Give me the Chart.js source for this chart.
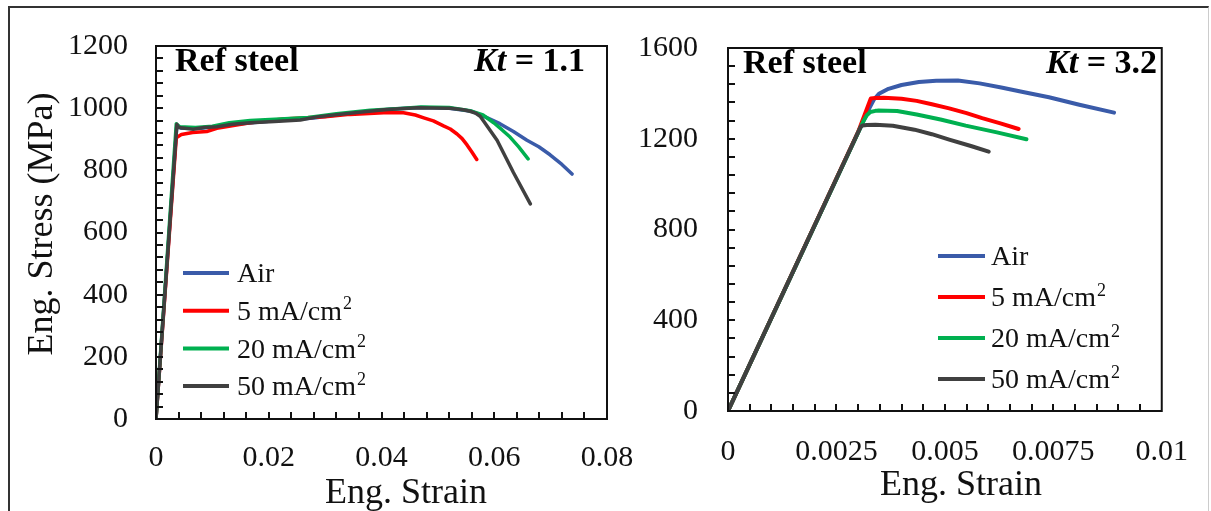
<!DOCTYPE html>
<html>
<head>
<meta charset="utf-8">
<script src="https://cdn.jsdelivr.net/npm/chart.js@4.4.1/dist/chart.umd.min.js"></script>
<style>
  html, body { margin: 0; padding: 0; background: #fff; }
  body { width: 1211px; height: 511px; position: relative; overflow: hidden; }
  #frame { position: absolute; left: 8px; top: 6px; width: 1198px; height: 540px;
           border-top: 2px solid #333; border-left: 2px solid #333; border-right: 1px solid #ccc; }
  canvas { position: absolute; top: 0; }
  #left { left: 0; }
  #right { left: 620px; }
</style>
</head>
<body>
<div id="frame"></div>
<canvas id="left" width="660" height="511"></canvas>
<canvas id="right" width="591" height="511"></canvas>
<script>
/* Stress-strain curves of the reference steel, Kt = 1.1 (left) and Kt = 3.2 (right). */
const SERIES = ["Air", "5 mA/cm²", "20 mA/cm²", "50 mA/cm²"];
const COLORS = ["#3a5ba9", "#ff0000", "#00b050", "#404040"];

// Kt = 1.1 (strain, stress in MPa)
const airStrain11 = [0, 0.0037, 0.0045, 0.008, 0.012, 0.02, 0.028, 0.035, 0.042, 0.047, 0.052, 0.056, 0.058, 0.061, 0.0634, 0.0658, 0.0679, 0.0699, 0.072, 0.0738];
const airStress11 = [0, 945, 935, 935, 945, 958, 968, 985, 997, 1002, 1000, 990, 975, 950, 925, 897, 876, 850, 819, 788];
const ma5Strain11 = [0, 0.0036, 0.0045, 0.0065, 0.009, 0.0108, 0.014, 0.0167, 0.0226, 0.03, 0.0344, 0.0404, 0.0439, 0.046, 0.0475, 0.0492, 0.051, 0.0522, 0.0534, 0.0543, 0.0552, 0.056, 0.0569];
const ma5Stress11 = [0, 905, 915, 922, 925, 935, 945, 953, 965, 972, 980, 985, 985, 978, 969, 959, 943, 933, 917, 902, 881, 860, 835];
const ma20Strain11 = [0, 0.0036, 0.0042, 0.007, 0.01, 0.013, 0.0167, 0.022, 0.027, 0.032, 0.038, 0.044, 0.047, 0.052, 0.0557, 0.058, 0.0599, 0.0614, 0.0628, 0.0643, 0.066];
const ma20Stress11 = [0, 950, 940, 938, 942, 953, 960, 965, 970, 982, 993, 1000, 1004, 1002, 992, 978, 953, 930, 907, 876, 837];
const ma50Strain11 = [0, 0.0037, 0.004, 0.0066, 0.0085, 0.0108, 0.0135, 0.0167, 0.021, 0.0256, 0.0285, 0.0344, 0.0404, 0.0463, 0.0522, 0.0545, 0.0557, 0.0568, 0.0575, 0.0581, 0.0605, 0.0634, 0.0664];
const ma50Stress11 = [0, 948, 938, 932, 938, 940, 948, 953, 957, 962, 972, 984, 995, 1001, 1000, 995, 990, 983, 974, 959, 897, 793, 692];

// Kt = 3.2
const airStrain32 = [0, 0.00326, 0.00336, 0.00348, 0.0037, 0.004, 0.0044, 0.0048, 0.0053, 0.0058, 0.0063, 0.0068, 0.0074, 0.0081, 0.0089];
const airStress32 = [0, 1335, 1372, 1398, 1420, 1437, 1450, 1456, 1457, 1444, 1426, 1406, 1383, 1350, 1315];
const ma5Strain32 = [0, 0.003, 0.00329, 0.0034, 0.00359, 0.004, 0.00435, 0.0047, 0.0051, 0.0055, 0.00586, 0.0063, 0.0067];
const ma5Stress32 = [0, 1230, 1377, 1380, 1381, 1376, 1367, 1352, 1334, 1313, 1291, 1267, 1243];
const ma20Strain32 = [0, 0.00314, 0.0032, 0.00328, 0.0034, 0.00345, 0.0039, 0.00435, 0.0049, 0.00548, 0.0062, 0.00688];
const ma20Stress32 = [0, 1284, 1304, 1318, 1323, 1324, 1322, 1307, 1285, 1258, 1228, 1198];
const ma50Strain32 = [0, 0.00306, 0.0031, 0.0032, 0.0034, 0.0038, 0.0043, 0.0047, 0.0051, 0.0056, 0.00601];
const ma50Stress32 = [0, 1253, 1258, 1261, 1262, 1257, 1240, 1220, 1196, 1168, 1143];

const FONT = "'Liberation Serif', 'Times New Roman', serif";

function pts(xs, ys) { return xs.map((x, i) => ({ x: x, y: ys[i] })); }

function datasets(list, width) {
  return list.map(function (d, i) {
    return {
      label: SERIES[i],
      data: pts(d[0], d[1]),
      borderColor: COLORS[i],
      borderWidth: width,
      showLine: true,
      pointRadius: 0,
      tension: 0,
      borderJoinStyle: "round",
      borderCapStyle: "round",
      order: [3, 2, 1, 0][i],
    };
  });
}

// inward ticks, plot box, legend and text labels
const decor = {
  id: "decor",
  afterDraw(chart, args, o) {
    const ctx = chart.ctx, a = chart.chartArea, xs = chart.scales.x, ys = chart.scales.y;
    ctx.save();
    ctx.strokeStyle = "#111";
    ctx.lineWidth = 2;
    ctx.beginPath();
    for (let v = o.xMinor; v < xs.max - o.xMinor / 2; v += o.xMinor) {
      const px = Math.round(xs.getPixelForValue(v));
      ctx.moveTo(px, a.bottom); ctx.lineTo(px, a.bottom - 7);
    }
    for (let v = o.yMinor; v < ys.max - o.yMinor / 2; v += o.yMinor) {
      const py = Math.round(ys.getPixelForValue(v));
      ctx.moveTo(a.left, py); ctx.lineTo(a.left + 7, py);
    }
    ctx.stroke();
    ctx.strokeRect(a.left, a.top, a.right - a.left, a.bottom - a.top);

    // legend
    ctx.textBaseline = "middle";
    ctx.textAlign = "left";
    chart.data.datasets.forEach(function (ds, i) {
      const y = o.legend.y + i * o.legend.dy;
      ctx.strokeStyle = ds.borderColor;
      ctx.lineWidth = 4;
      ctx.beginPath();
      ctx.moveTo(o.legend.x0, y); ctx.lineTo(o.legend.x1, y);
      ctx.stroke();
      ctx.fillStyle = "#111";
      let txt = ds.label, sup = "";
      if (txt.endsWith("²")) { sup = "2"; txt = txt.slice(0, -1); }
      ctx.font = "28px " + FONT;
      ctx.fillText(txt, o.legend.tx, y + 2);
      if (sup) {
        const w = ctx.measureText(txt).width;
        ctx.font = "18px " + FONT;
        ctx.fillText(sup, o.legend.tx + w + 1, y - 6);
      }
    });

    // panel labels
    ctx.fillStyle = "#000";
    ctx.textBaseline = "alphabetic";
    ctx.font = "bold 34px " + FONT;
    ctx.fillText("Ref steel", o.ref.x, o.ref.y);
    const rest = " = " + o.kt;
    const wRest = ctx.measureText(rest).width;
    ctx.textAlign = "right";
    ctx.fillText(rest, o.ref.xr, o.ref.y);
    ctx.font = "italic bold 34px " + FONT;
    ctx.fillText("Kt", o.ref.xr - wRest, o.ref.y);

    // axis titles
    ctx.fillStyle = "#111";
    ctx.textAlign = "center";
    ctx.font = "36px " + FONT;
    ctx.fillText("Eng. Strain", o.xTitle.x, o.xTitle.y);
    if (o.yTitle) {
      ctx.translate(o.yTitle.x, o.yTitle.y);
      ctx.rotate(-Math.PI / 2);
      ctx.fillText("Eng. Stress (MPa)", 0, 0);
    }
    ctx.restore();
  },
};

function fmt(v) { return String(+v.toFixed(4)); }

function makeChart(id, sets, xMax, xStep, yMax, yStep, box, deco) {
  return new Chart(document.getElementById(id), {
    type: "scatter",
    data: { datasets: sets },
    options: {
      responsive: false,
      animation: false,
      layout: { padding: { top: box.top, right: box.right, left: 0, bottom: 0 } },
      plugins: { legend: { display: false }, tooltip: { enabled: false }, decor: deco },
      scales: {
        x: {
          type: "linear", min: 0, max: xMax,
          grid: { display: false, drawTicks: false },
          border: { display: false },
          ticks: { stepSize: xStep, padding: box.xPad, color: "#111", font: { family: FONT, size: 30 }, callback: fmt, maxRotation: 0 },
          afterFit: (s) => { s.height = box.xH; },
        },
        y: {
          type: "linear", min: 0, max: yMax,
          grid: { display: false, drawTicks: false },
          border: { display: false },
          ticks: { stepSize: yStep, padding: box.yPad, color: "#111", font: { family: FONT, size: 30 }, callback: fmt },
          afterFit: (s) => { s.width = box.yW; },
        },
      },
    },
    plugins: [decor],
  });
}

makeChart("left",
  datasets([[airStrain11, airStress11], [ma5Strain11, ma5Stress11], [ma20Strain11, ma20Stress11], [ma50Strain11, ma50Stress11]], 3.5),
  0.08, 0.02, 1200, 200,
  { top: 32, right: 53, xH: 92, yW: 156, xPad: 21, yPad: 28 },
  {
    xMinor: 0.004, yMinor: 40, kt: "1.1",
    legend: { x0: 183, x1: 229, tx: 237, y: 273, dy: 37.7 },
    ref: { x: 175, xr: 585, y: 71 },
    xTitle: { x: 406, y: 503 },
    yTitle: { x: 52, y: 224 },
  });

makeChart("right",
  datasets([[airStrain32, airStress32], [ma5Strain32, ma5Stress32], [ma20Strain32, ma20Stress32], [ma50Strain32, ma50Stress32]], 4),
  0.01, 0.0025, 1600, 400,
  { top: 40, right: 41, xH: 100, yW: 108, xPad: 23, yPad: 30 },
  {
    xMinor: 0.0005, yMinor: 80, kt: "3.2",
    legend: { x0: 318, x1: 365, tx: 371, y: 256, dy: 41 },
    ref: { x: 123, xr: 537, y: 73 },
    xTitle: { x: 341, y: 495 },
  });
</script>
</body>
</html>
